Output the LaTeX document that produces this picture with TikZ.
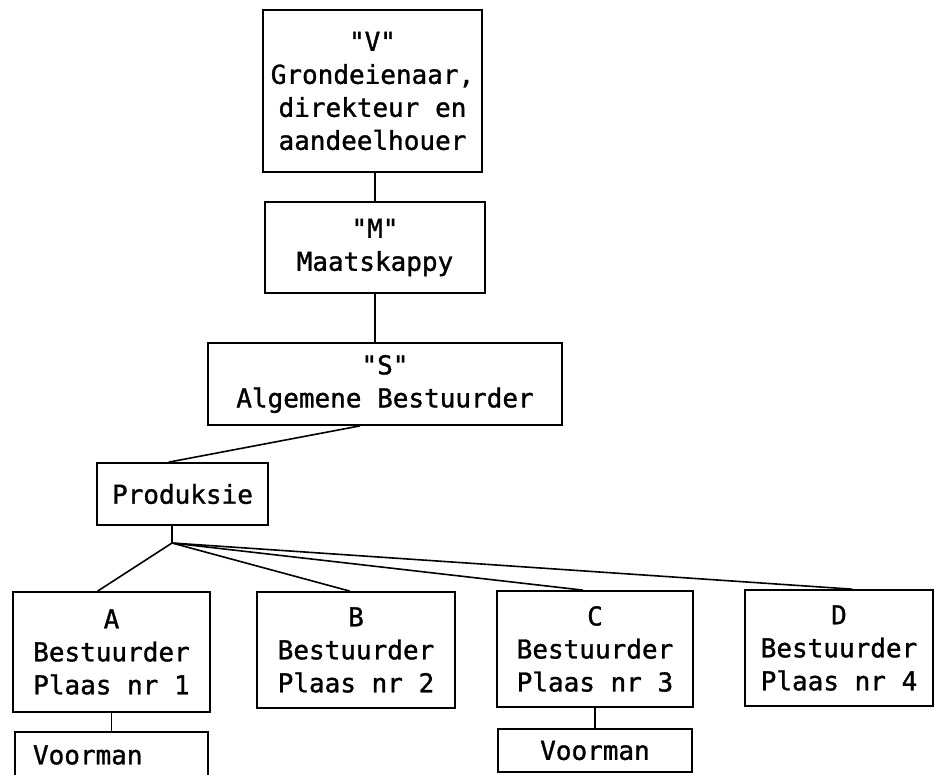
\documentclass[tikz,border=0pt]{standalone}
\usepackage{fontspec}
\setmonofont[FakeBold=1.2]{DejaVu Sans Mono}
\usetikzlibrary{positioning,calc}

\begin{document}
\begin{tikzpicture}[x=1pt,y=-1pt,
    box/.style={draw, line width=1.7pt, inner sep=0pt, align=center,
        font=\ttfamily\fontsize{26}{33}\selectfont},
    link/.style={line width=1.6pt}]
		\useasboundingbox (0,0) rectangle (936,774);
		\clip (0,0) rectangle (936,774);

		\node[box, minimum width=219, minimum height=162] (V) at (372.5,91) {"V"\\Grondeienaar,\\direkteur en\\aandeelhouer};
		\node[box, minimum width=220, minimum height=91] (M) at (375,247.5) {"M"\\Maatskappy};
		\node[box, minimum width=354, minimum height=82] (S) at (385,384) {"S"\\Algemene Bestuurder};
		\node[box, minimum width=171, minimum height=62] (P) at (182.5,494) {Produksie};

		\node[box, minimum width=197, minimum height=120] (A) at (111.5,652) {A\\Bestuurder\\Plaas nr 1};
		\node[box, minimum width=198, minimum height=116] (B) at (356,650) {B\\Bestuurder\\Plaas nr 2};
		\node[box, minimum width=196, minimum height=116] (C) at (595,649) {C\\Bestuurder\\Plaas nr 3};
		\node[box, minimum width=188, minimum height=116] (D) at (839,648) {D\\Bestuurder\\Plaas nr 4};

		\node[box, minimum width=193, minimum height=46, text width=157, align=left, inner xsep=18] (VA) at (111.5,755) {Voorman};
		\node[box, minimum width=194, minimum height=43] (VC) at (595,750.5) {Voorman};

		\coordinate (fan) at (172,543);

		\draw[link] (M.north) -- (M.north |- V.south);
		\draw[link] (M.south) -- (M.south |- S.north);
		\draw[link] ($(S.south west)!.43!(S.south east)$) -- ($(P.north west)!.42!(P.north east)$);
		\draw[link] (fan |- P.south) -- (fan);
		\draw[link] (fan) -- ($(A.north west)!.43!(A.north east)$);
		\draw[link] (fan) -- ($(B.north west)!.47!(B.north east)$);
		\draw[link] (fan) -- ($(C.north west)!.44!(C.north east)$);
		\draw[link] (fan) -- ($(D.north west)!.57!(D.north east)$);
		\draw[link] (A) -- (VA);
		\draw[link] (C) -- (VC);
\end{tikzpicture}
\end{document}
